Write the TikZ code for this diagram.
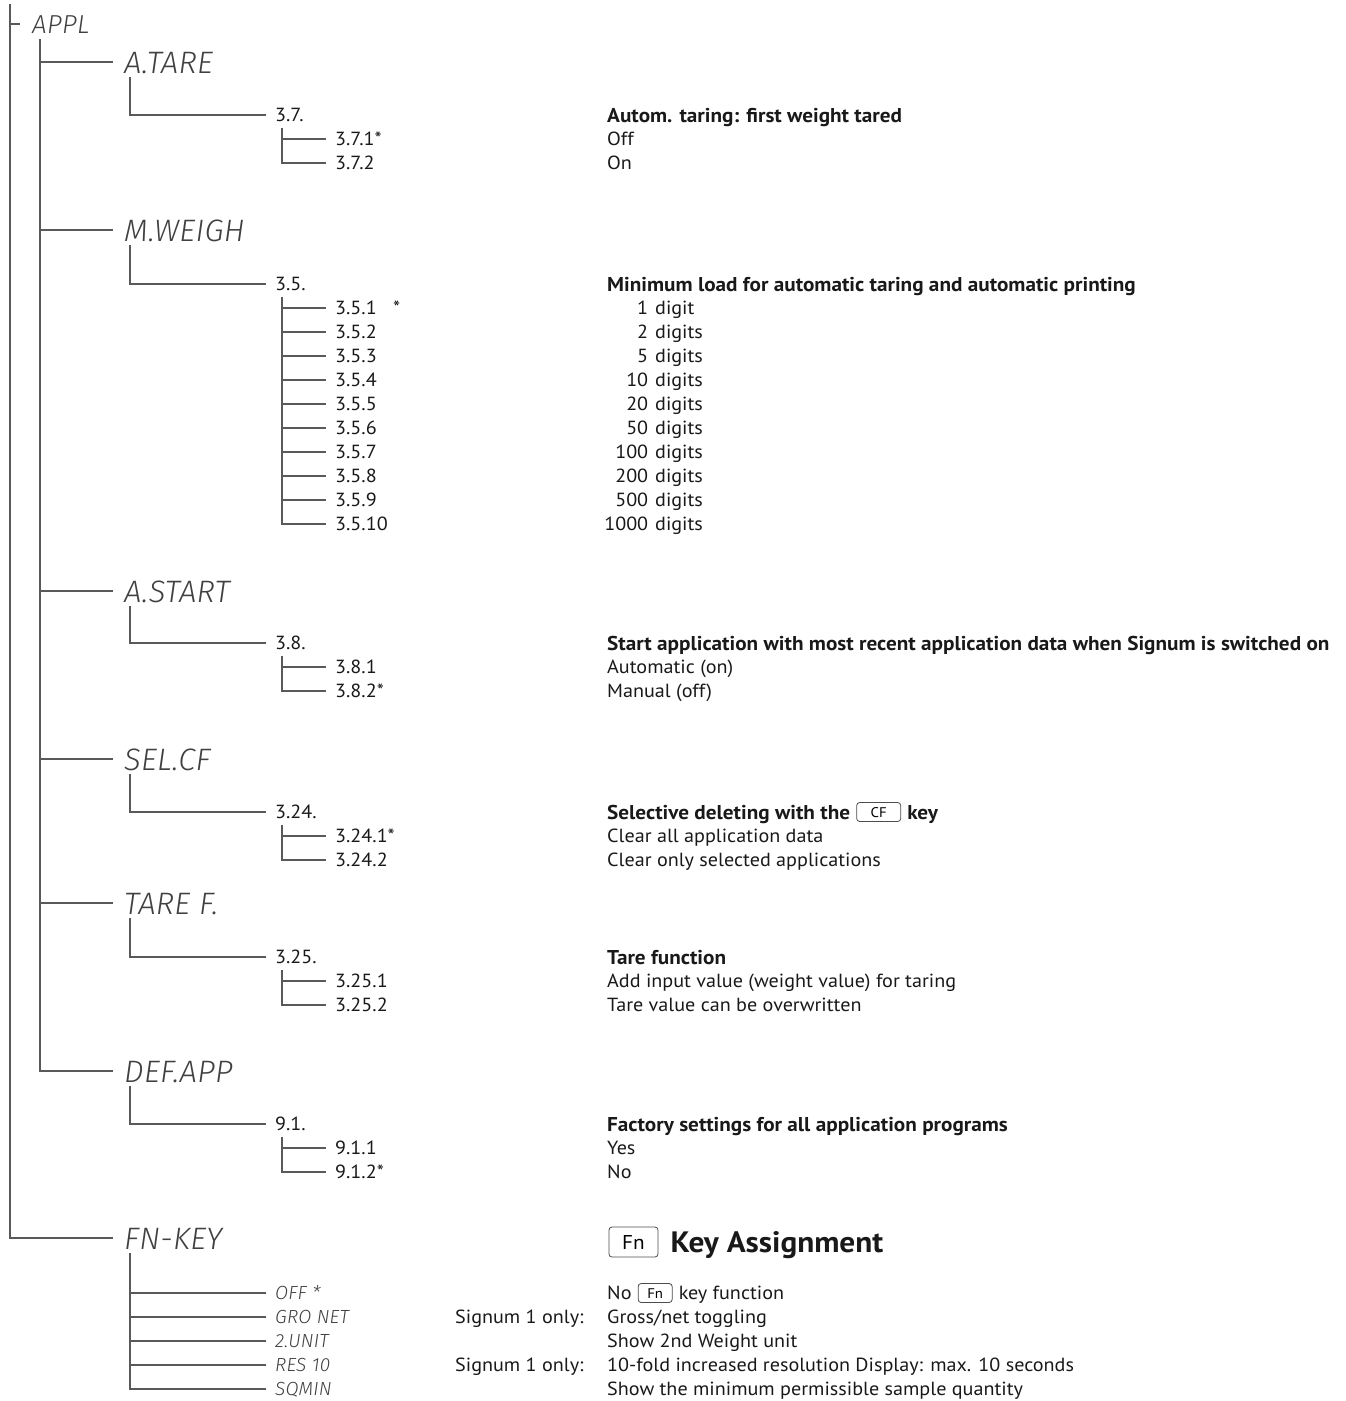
\documentclass[tikz,border=0pt]{standalone}
\usepackage{fontspec}
\setmainfont{PT Sans}[FakeStretch=1.06]
\newfontfamily\lcdfont{Fira Sans Light Italic}[LetterSpace=1]
\usetikzlibrary{positioning}

\begin{document}
\begin{tikzpicture}[x=1pt,y=-1pt,
  tree/.style={draw=black!65,line width=1.3pt},
  txt/.style={anchor=west,inner xsep=0pt,inner ysep=0pt,text height=13.5pt,text depth=0pt,text=black!90,font=\fontsize{19}{21}\selectfont},
  hdr/.style={txt,text height=14pt,font=\bfseries\fontsize{20}{22}\selectfont},
  num/.style={txt,inner xsep=9pt},
  lcd/.style={anchor=west,inner xsep=11pt,inner ysep=0pt,text height=22pt,text depth=0pt,text=black!75,font=\lcdfont\fontsize{31}{31}\selectfont},
  lcdtop/.style={lcd,inner xsep=12pt,text height=18pt,font=\lcdfont\fontsize{26}{26}\selectfont},
  lcdsub/.style={lcd,inner xsep=9pt,text height=13pt,font=\lcdfont\fontsize{19}{19}\selectfont},
  keycap/.style={draw=black!70,line width=0.8pt,rounded corners=3pt,inner xsep=4pt,inner ysep=0pt,minimum width=34pt,minimum height=19pt,text height=10pt,text depth=0pt,font=\fontsize{14}{14}\selectfont}]
\useasboundingbox (0,0) rectangle (1346,1401);

% menu tree
\coordinate (root) at (10,4);
\node[lcdtop] (appl) at (20,24) {APPL};
\foreach \mn/\lbl/\y in {atare/A.TARE/62,mweigh/M.WEIGH/230,astart/A.START/591,selcf/SEL.CF/759,taref/TARE F./903,defapp/DEF.APP/1071}
   \node[lcd] (\mn) at (113,\y) {\lbl};
\node[lcd] (fnkey) at (113,1238) {FN-KEY};
\draw[tree] (root) |- (appl.west);
\draw[tree] (root) |- (fnkey.west);
\foreach \mn in {atare,mweigh,astart,selcf,taref,defapp}
   \draw[tree] (appl.west) ++(20,15) |- (\mn.west);

% parameters
\foreach \mn/\pn/\nr/\y in {atare/p37/3.7./115,mweigh/p35/3.5./284,astart/p38/3.8./643,selcf/p324/3.24./812,taref/p325/3.25./957,defapp/p91/9.1./1124} {
   \node[num] (\pn) at (266,\y) {\nr};
   \draw[tree] (\mn.west) ++(17,15) |- (\pn.west);
}
\node[hdr] (d37) at (607,115) {Autom. taring: first weight tared};
\node[hdr] (d35) at (607,284) {Minimum load for automatic taring and automatic printing};
\node[hdr] (d38) at (607,643) {Start application with most recent application data when Signum is switched on};
\node[hdr] (d324) at (607,812) {Selective deleting with the};
\node[keycap,minimum width=44pt] (cfkey) [right=6pt of d324] {CF};
\node[hdr] (d324b) [right=6pt of cfkey] {key};
\node[hdr] (d325) at (607,957) {Tare function};
\node[hdr] (d91) at (607,1124) {Factory settings for all application programs};

% settings
\foreach \pn/\on/\t/\y/\d in {p37/o371/{3.7.1*}/139/Off,p37/o372/3.7.2/163/On,
   p38/o381/3.8.1/667/Automatic (on),p38/o382/{3.8.2*}/691/Manual (off),
   p324/o3241/{3.24.1*}/836/Clear all application data,p324/o3242/3.24.2/860/Clear only selected applications,
   p325/o3251/3.25.1/981/Add input value (weight value) for taring,p325/o3252/3.25.2/1005/Tare value can be overwritten,
   p91/o911/9.1.1/1148/Yes,p91/o912/{9.1.2*}/1172/No} {
   \node[num] (\on) at (326,\y) {\t};
   \node[txt] (d\on) at (607,\y) {\d};
   \draw[tree] (\pn.west) ++(16,13) |- (\on.west);
}
\foreach \i/\n/\u in {1/1/digit,2/2/digits,3/5/digits,4/10/digits,5/20/digits,6/50/digits,7/100/digits,8/200/digits,9/500/digits,10/1000/digits} {
   \node[num] (o35\i) at (326,284+24*\i) {3.5.\i};
   \node[txt] (do35\i) at (607,284+24*\i) {\makebox[41pt][r]{\n}\hspace{7pt}\u};
   \draw[tree] (p35.west) ++(16,13) |- (o35\i.west);
}
\node[txt] (s351) at (393,308) {*};

% Fn key
\node[keycap,minimum width=49pt,minimum height=30pt,text height=14pt,font=\fontsize{20}{20}\selectfont] (fnbig) at (633.5,1242) {Fn};
\node[hdr,text height=21pt,font=\bfseries\fontsize{29.5}{30}\selectfont,right=12pt of fnbig] (title) {Key Assignment};
\foreach \i/\t/\y in {1/OFF */1293,2/GRO NET/1317,3/2.UNIT/1341,4/RES 10/1365,5/SQMIN/1389} {
   \node[lcdsub] (fk\i) at (266,\y) {\t};
   \draw[tree] (fnkey.west) ++(17,15) |- (fk\i.west);
}
\node[txt] (dfk1) at (607,1293) {No};
\node[keycap] (fnsmall) [right=6pt of dfk1] {Fn};
\node[txt] (dfk1b) [right=6pt of fnsmall] {key function};
\node[txt] (dfk2) at (607,1317) {Gross/net toggling};
\node[txt] (dfk3) at (607,1341) {Show 2nd Weight unit};
\node[txt] (dfk4) at (607,1365) {10-fold increased resolution Display: max. 10 seconds};
\node[txt] (dfk5) at (607,1389) {Show the minimum permissible sample quantity};
\node[txt] (sig2) at (455,1317) {Signum 1 only:};
\node[txt] (sig4) at (455,1365) {Signum 1 only:};
\end{tikzpicture}
\end{document}
